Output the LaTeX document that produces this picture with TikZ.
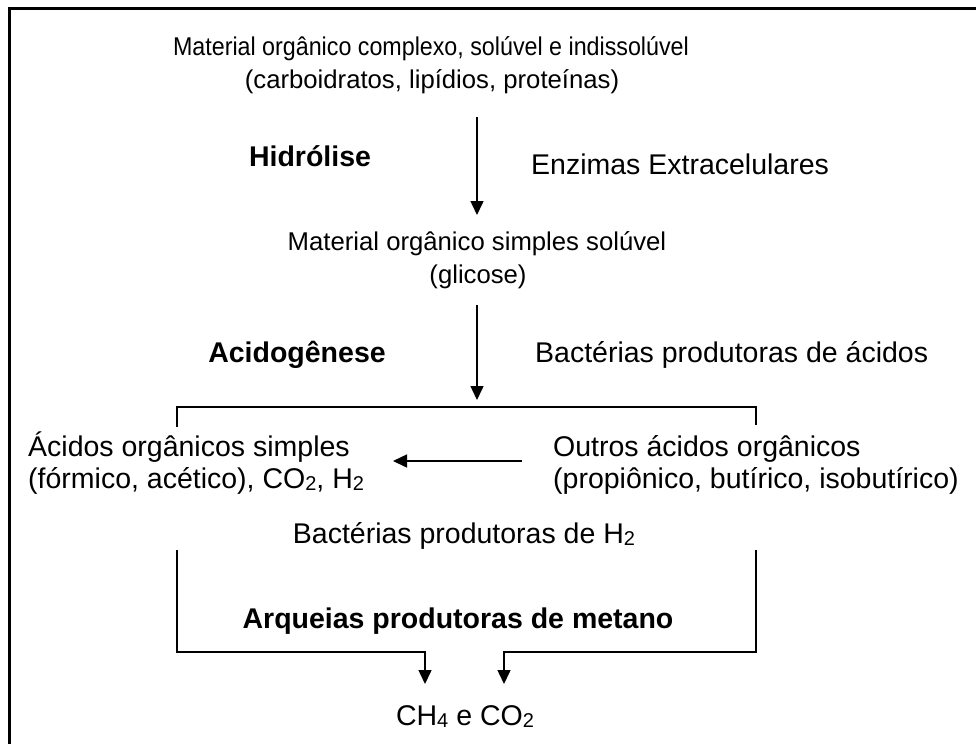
\documentclass[tikz,border=0pt]{standalone}
\usepackage{fontspec}
\setmainfont{Liberation Sans}
\usetikzlibrary{arrows.meta}
\newcommand{\chsub}[1]{\raisebox{-0.08em}{\fontsize{20}{20}\selectfont #1}}
\begin{document}
\begin{tikzpicture}[x=1pt,y=1pt,
  lbl/.style={inner sep=0pt,anchor=base,font=\fontsize{28.5}{33}\selectfont},
  mlbl/.style={lbl,font=\fontsize{25.7}{33}\selectfont},
  lbll/.style={lbl,anchor=base west},
  blbl/.style={lbl,font=\fontsize{28.5}{33}\selectfont\bfseries},
  conn/.style={line width=1.5pt},
  arr/.style={conn,-{Triangle[width=13pt,length=14pt]}},
  frame/.style={line width=3pt}]
\useasboundingbox (0,0) rectangle (976,-744);
\fill[white] (0,0) rectangle (976,-744);
\draw[frame] (9.5,-744) -- (9.5,-8.5) -- (976,-8.5);

\node[mlbl] (top1) at (431,-55) {\scalebox{0.905}[1]{Material orgânico complexo, solúvel e indissolúvel}};
\node[mlbl] (top2) at (432,-88) {(carboidratos, lipídios, proteínas)};
\node[blbl] (hidro) at (310,-166) {Hidrólise};
\node[lbll] (enz) at (531,-174) {Enzimas Extracelulares};
\node[mlbl] (simp1) at (477,-250) {Material orgânico simples solúvel};
\node[mlbl] (simp2) at (478,-283) {(glicose)};
\node[blbl] (acido) at (297,-362) {Acidogênese};
\node[lbll] (bacac) at (535,-362) {Bactérias produtoras de ácidos};
\node[lbll] (acs1) at (28,-456) {Ácidos orgânicos simples};
\node[lbll] (acs2) at (28,-488) {(fórmico, acético), CO\chsub{2}, H\chsub{2}};
\node[lbll] (out1) at (553,-456) {Outros ácidos orgânicos};
\node[lbll] (out2) at (553,-488) {(propiônico, butírico, isobutírico)};
\node[lbl] (bach) at (464,-543) {Bactérias produtoras de H\chsub{2}};
\node[blbl] (arq) at (458,-628) {Arqueias produtoras de metano};
\node[lbl] (ch4) at (465,-725) {CH\chsub{4} e CO\chsub{2}};

\coordinate (a1s) at (477,-117);
\coordinate (a1e) at (477,-215);
\coordinate (a2s) at (477,-305);
\coordinate (a2e) at (477,-400);
\coordinate (bl) at (177,-427);
\coordinate (br) at (756,-425);
\coordinate (brtop) at (756,-407);
\coordinate (hs) at (522,-461);
\coordinate (he) at (393,-461);
\coordinate (ls) at (177,-550);
\coordinate (le) at (425,-684);
\coordinate (rs) at (756,-550);
\coordinate (re) at (504,-684);

\draw[arr] (a1s) -- (a1e);
\draw[arr] (a2s) -- (a2e);
\draw[conn] (bl) |- (brtop) -- (br);
\draw[arr] (hs) -- (he);
\draw[arr] (ls) |- (425,-652) -- (le);
\draw[arr] (rs) |- (504,-652) -- (re);
\end{tikzpicture}
\end{document}
